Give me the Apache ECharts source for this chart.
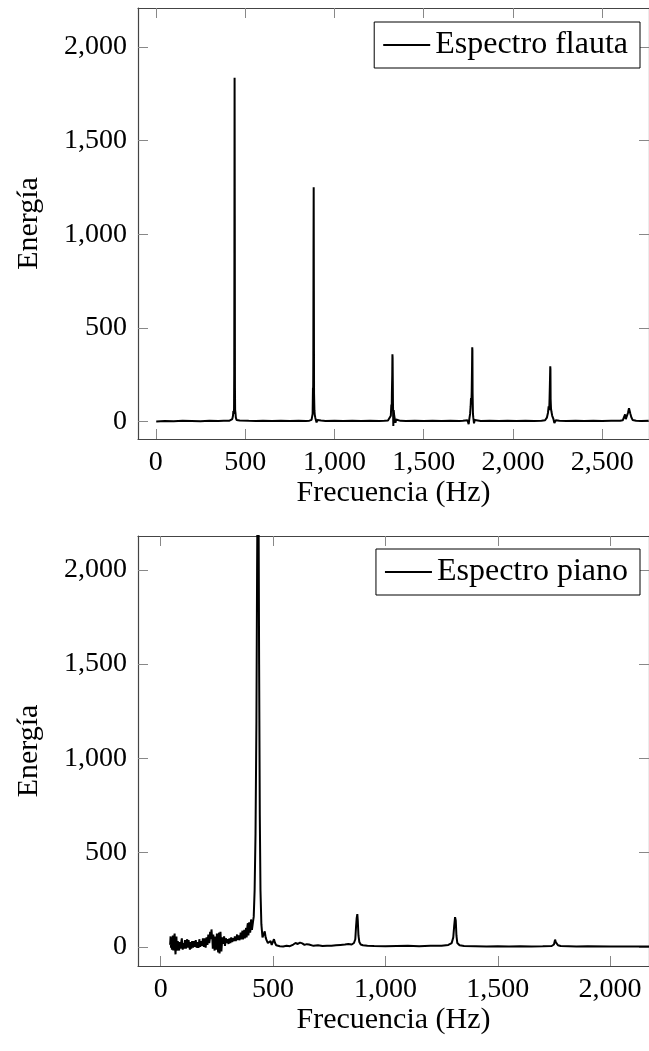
<!DOCTYPE html>
<html>
<head>
<meta charset="utf-8">
<script src="https://cdn.jsdelivr.net/npm/echarts@6/dist/echarts.min.js"></script>
<style>
html,body{margin:0;padding:0;background:#fff;}
#chart{width:649px;height:1051px;}
</style>
</head>
<body>
<div id="chart"></div>
<script>
// ---- Data ----
const fluteName = 'Espectro flauta';
const pianoName = 'Espectro piano';
const xAxisName = 'Frecuencia (Hz)';
const yAxisName = 'Energía';

const fluteXTicks = [0, 500, 1000, 1500, 2000, 2500];
const pianoXTicks = [0, 500, 1000, 1500, 2000];
const yTicks = [0, 500, 1000, 1500, 2000];

// Flute spectrum [frequency Hz, energy]
const flutePoints = [
  [2,0],[50,2],[100,1],[150,3],[200,2],[250,1],[300,3],[350,2],[380,4],[410,3],
  [420,5],[428,12],[432,30],[434,55],[436,40],[438,70],[439,260],[440,900],[441,1836],[442,1100],
  [443,180],[444,60],[446,45],[448,20],[452,8],[460,3],[470,5],[480,1],[520,3],[560,2],
  [600,4],[650,2],[700,3],[750,2],[800,3],[840,2],[860,4],[872,8],[876,15],[878,40],
  [880,180],[881,120],[882,350],[883,900],[884,1251],[885,700],[886,150],[888,60],[890,35],[893,20],
  [896,10],[900,-6],[905,8],[912,3],[925,5],[950,2],[1000,3],[1050,2],[1100,4],[1150,2],
  [1200,3],[1250,2],[1280,3],[1300,5],[1310,10],[1316,30],[1319,90],[1321,60],[1322,150],[1324,250],
  [1325,358],[1326,340],[1327,220],[1328,100],[1330,-25],[1332,60],[1335,30],[1338,15],[1342,-8],[1346,10],
  [1352,5],[1370,3],[1400,2],[1450,4],[1500,2],[1550,3],[1600,2],[1650,4],[1700,2],[1720,3],
  [1745,6],[1752,-15],[1756,15],[1760,40],[1763,80],[1765,125],[1767,90],[1769,160],[1771,300],[1772,396],
  [1773,380],[1774,150],[1776,40],[1778,20],[1782,-10],[1786,8],[1795,4],[1820,2],[1870,3],[1920,2],
  [1970,4],[2020,2],[2070,3],[2120,2],[2160,3],[2180,6],[2190,20],[2196,45],[2200,80],[2203,60],
  [2205,120],[2207,200],[2209,294],[2210,280],[2211,120],[2213,70],[2216,50],[2220,30],[2226,15],[2232,-8],
  [2240,6],[2260,3],[2300,2],[2350,4],[2400,2],[2450,3],[2500,2],[2550,4],[2600,3],[2615,6],
  [2622,15],[2628,37],[2632,12],[2638,20],[2644,45],[2650,70],[2654,68],[2658,40],[2664,20],[2670,8],
  [2690,4],[2720,2],[2760,3]
];

// Piano spectrum [frequency Hz, energy]
const pianoPoints = [
  [42,10],[44,55],[46,-5],[48,45],[50,-15],[52,30],[54,60],[56,-20],[58,-30],[60,50],[62,70],[64,0],[66,-40],[68,20],[70,55],
  [72,-20],[74,-10],[76,30],[78,40],[80,-5],[82,-20],[84,25],[86,35],[88,-10],[90,0],[92,30],[94,45],[96,5],[98,-15],[100,20],
  [102,30],[104,-10],[106,-5],[108,35],[110,25],[112,-10],[114,-20],[116,25],[118,40],[120,-5],[122,5],[124,35],[126,30],[128,0],
  [130,-15],[132,25],[134,35],[136,-10],[138,0],[140,30],[142,25],[144,-5],[146,-10],[148,30],[150,40],[152,0],[154,5],[156,35],
  [158,30],[160,-5],[162,-15],[164,25],[166,20],[168,-5],[170,10],[172,40],[174,35],[176,0],[178,-5],[180,30],[182,25],[184,5],[186,15],
  [188,45],[190,40],[192,0],[194,10],[196,45],[198,30],[200,-5],[202,5],[204,50],[206,45],[208,10],[210,20],[212,65],[214,60],
  [216,20],[218,35],[220,80],[222,75],[224,40],[226,92],[228,60],[230,40],
  [232,-10],[234,65],[236,70],[238,10],[240,-20],[242,55],[244,60],[246,0],[248,-15],[250,70],[252,40],[254,-10],[256,-30],
  [258,60],[260,75],[262,-35],[264,-40],[266,80],[268,30],[270,-25],[272,10],[274,50],[276,45],[278,15],[280,5],[282,55],[284,40],
  [286,5],[288,15],[290,45],[292,50],[294,20],
  [296,25],[298,40],[300,50],[302,15],[304,20],[306,45],[308,50],[310,20],[312,25],[314,50],[316,55],[318,25],[320,30],[322,45],
  [324,55],[326,30],[328,35],[330,55],[332,60],[334,30],[336,35],[338,50],[340,65],[342,35],[344,40],[346,60],[348,70],[350,35],
  [352,45],[354,55],[356,75],[358,40],[360,50],[362,70],[364,85],[366,40],[368,55],[370,65],[372,90],[374,45],[376,60],
  [378,80],[380,100],[382,50],[384,70],[386,110],[388,125],[390,60],[392,80],[394,130],[396,140],[398,75],[400,95],[402,145],
  [404,150],[406,90],[408,100],[410,125],
  [414,160],[418,300],[422,600],[426,1200],[429,2000],[432,2650],[435,2500],[438,1500],[441,700],[444,300],
  [448,120],[453,50],[458,40],[463,82],[467,50],[471,35],[477,20],[483,15],[489,30],[494,10],
  [499,25],[504,40],[509,20],[514,8],[520,5],[530,3],[545,2],[560,5],[575,3],[590,12],
  [600,20],[610,15],[620,22],[630,18],[640,10],[650,14],[660,12],[680,5],[700,8],[720,4],
  [740,6],[760,5],[780,8],[800,10],[820,12],[835,15],[850,12],[860,20],[866,40],[869,100],
  [872,150],[875,173],[877,140],[880,60],[884,25],[890,12],[900,8],[920,5],[950,4],[1000,3],
  [1050,4],[1100,5],[1150,3],[1200,5],[1250,6],[1280,10],[1295,20],[1302,50],[1306,110],[1310,157],
  [1313,140],[1316,60],[1320,20],[1330,8],[1350,4],[1400,3],[1450,2],[1500,3],[1550,2],[1600,3],
  [1650,2],[1700,3],[1740,4],[1750,12],[1755,38],[1758,25],[1762,15],[1768,8],[1780,4],[1850,2],
  [1900,3],[2000,2],[2100,2],[2175,2]
];

// ---- Chart ----
const FONT = 'Liberation Serif';
const fmt = v => String(v).replace(/\B(?=(\d{3})+(?!\d))/g, ',');
const axisLineStyle = { color: '#444', width: 1.2 };
const tickStyle = { color: '#888', width: 1 };

function xAxisPair(gridIndex, min, max, ticks) {
  return [
    {
      type: 'value', gridIndex, min, max, position: 'bottom',
      name: xAxisName, nameLocation: 'middle', nameGap: 36,
      nameTextStyle: { fontFamily: FONT, fontSize: 30, color: '#000' },
      axisLine: { show: true, onZero: false, lineStyle: axisLineStyle },
      axisTick: { show: true, inside: true, length: 10, lineStyle: tickStyle, customValues: ticks },
      axisLabel: { show: true, margin: 10, fontFamily: FONT, fontSize: 28, color: '#000', customValues: ticks, formatter: fmt },
      splitLine: { show: false }
    },
    {
      type: 'value', gridIndex, min, max, position: 'top',
      axisLine: { show: true, onZero: false, lineStyle: axisLineStyle },
      axisTick: { show: true, inside: true, length: 10, lineStyle: tickStyle, customValues: ticks },
      axisLabel: { show: false },
      splitLine: { show: false }
    }
  ];
}
function yAxisPair(gridIndex, min, max, ticks) {
  return [
    {
      type: 'value', gridIndex, min, max, position: 'left',
      name: yAxisName, nameLocation: 'middle', nameGap: 94,
      nameTextStyle: { fontFamily: FONT, fontSize: 30, color: '#000' },
      axisLine: { show: true, onZero: false, lineStyle: axisLineStyle },
      axisTick: { show: true, inside: true, length: 10, lineStyle: tickStyle, customValues: ticks },
      axisLabel: { show: true, margin: 11, fontFamily: FONT, fontSize: 28, color: '#000', customValues: ticks, formatter: fmt },
      splitLine: { show: false }
    },
    {
      type: 'value', gridIndex, min, max, position: 'right',
      axisLine: { show: true, onZero: false, lineStyle: axisLineStyle },
      axisTick: { show: true, inside: true, length: 10, lineStyle: tickStyle, customValues: ticks },
      axisLabel: { show: false },
      splitLine: { show: false }
    }
  ];
}

function legendFor(name, top) {
  return {
    data: [name], right: 9, top,
    orient: 'horizontal',
    icon: 'rect', itemWidth: 47, itemHeight: 2, itemGap: 0,
    padding: [7, 12, 7, 9],
    borderColor: '#000', borderWidth: 1, borderRadius: 0,
    backgroundColor: '#fff',
    textStyle: { fontFamily: FONT, fontSize: 32, lineHeight: 31, color: '#000', padding: [0, 0, 0, 0] },
    selectedMode: false
  };
}

const chart = echarts.init(document.getElementById('chart'), null, { renderer: 'canvas' });
chart.setOption({
  animation: false,
  color: ['#000'],
  grid: [
    { left: 138, top: 8, width: 512, height: 431 },
    { left: 138, top: 536, width: 512, height: 430 }
  ],
  xAxis: [
    ...xAxisPair(0, -100, 2762, fluteXTicks),
    ...xAxisPair(1, -101, 2173, pianoXTicks)
  ],
  yAxis: [
    ...yAxisPair(0, -94, 2208, yTicks),
    ...yAxisPair(1, -102, 2180, yTicks)
  ],
  legend: [legendFor(fluteName, 22), legendFor(pianoName, 549)],
  series: [
    {
      name: fluteName, type: 'line', xAxisIndex: 0, yAxisIndex: 0,
      data: flutePoints, showSymbol: false, symbol: 'none', clip: true,
      lineStyle: { color: '#000', width: 2 }, itemStyle: { color: '#000' }
    },
    {
      name: pianoName, type: 'line', xAxisIndex: 2, yAxisIndex: 2,
      data: pianoPoints, showSymbol: false, symbol: 'none', clip: true,
      lineStyle: { color: '#000', width: 2 }, itemStyle: { color: '#000' }
    }
  ]
});
</script>
</body>
</html>
